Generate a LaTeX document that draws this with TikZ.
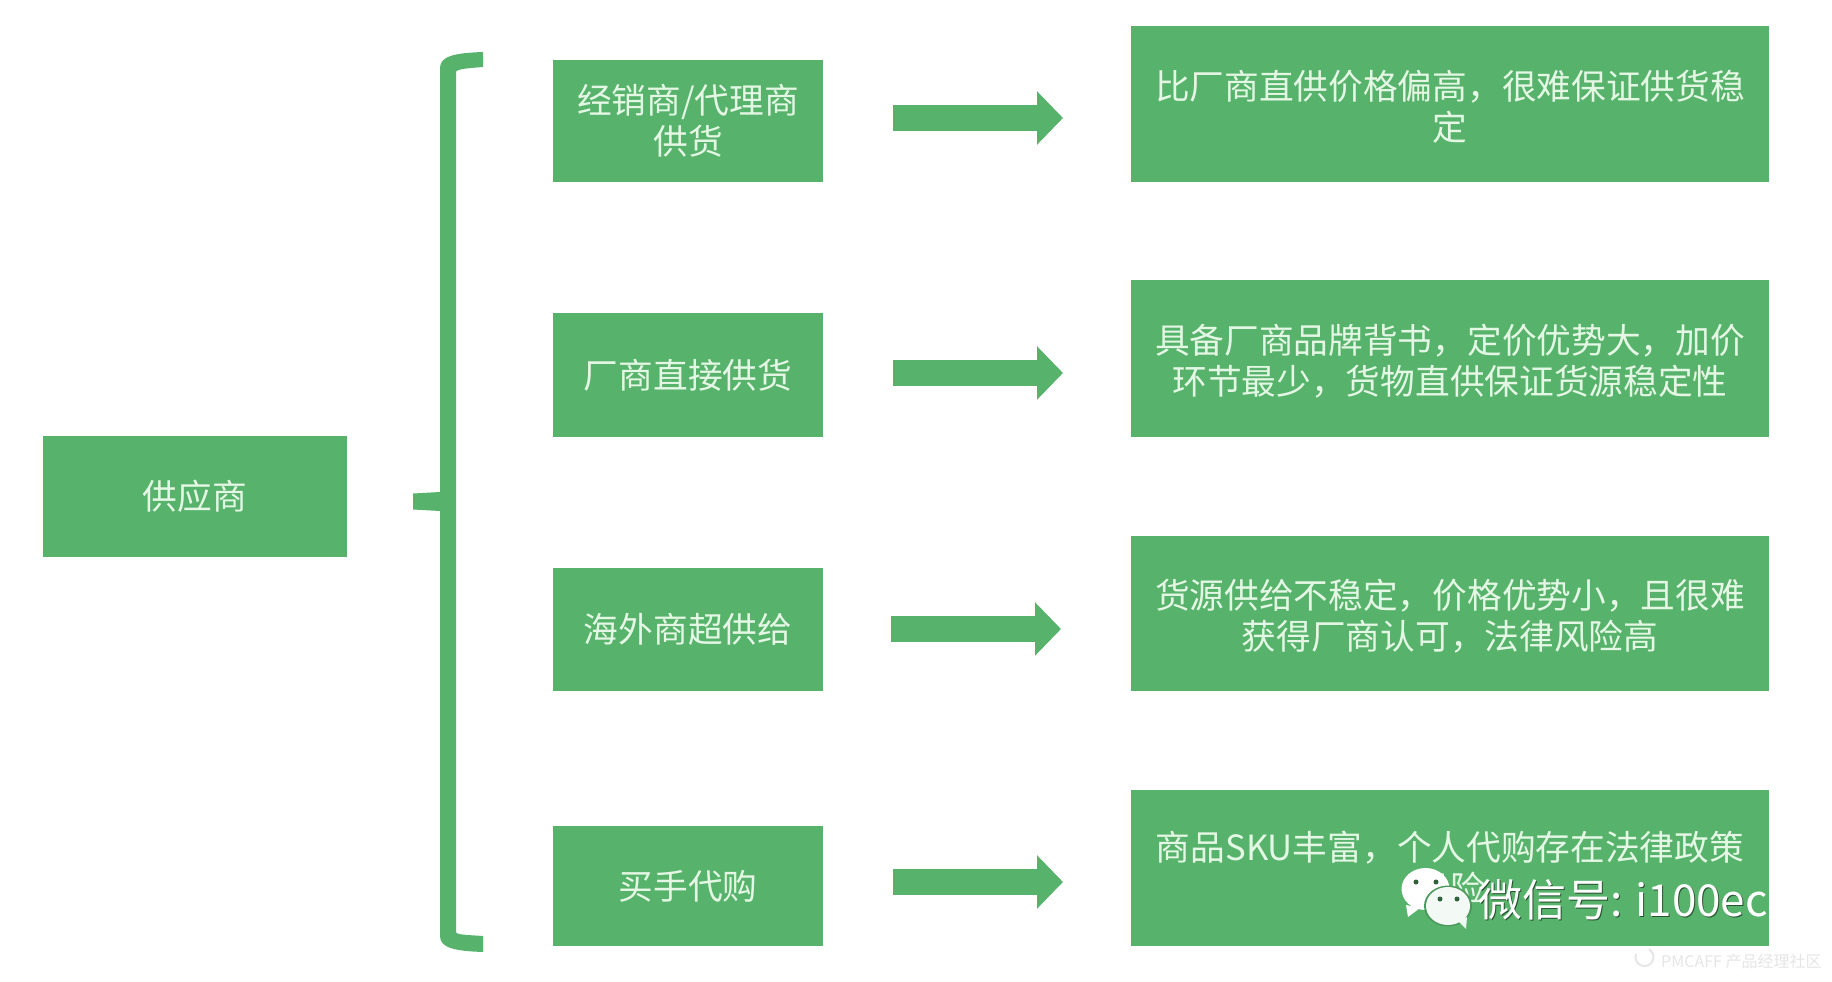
\documentclass[tikz,border=0pt]{standalone}
\usepackage{fontspec}
\setmainfont{Noto Sans CJK SC}
\usetikzlibrary{arrows.meta}
\definecolor{grn}{HTML}{57B36B}
\definecolor{pale}{HTML}{E4F7E4}
\definecolor{wm}{HTML}{E6E6E6}
\newcommand{\lowerline}{\rule{0pt}{35pt}}
\tikzset{
  box/.style={fill=grn,draw=none,inner sep=0pt,text=pale,align=center,font=\fontsize{34.7}{41}\selectfont},
  flow/.style={draw=grn,line width=26pt,-{Triangle[width=52pt,length=26pt]}},
  tag/.style={inner sep=0pt,anchor=west}
}
\begin{document}
\begin{tikzpicture}[x=1pt,y=-1pt]
\useasboundingbox (0,0) rectangle (1832,982);
\fill[white] (0,0) rectangle (1832,982);
% boxes
\node[box,minimum width=304pt,minimum height=121pt] (s) at (195,496.5) {供应商};
\node[box,minimum width=270pt,minimum height=122pt] (m1) at (688,121) {经销商/代理商\\供货};
\node[box,minimum width=270pt,minimum height=124pt] (m2) at (688,375) {厂商直接供货};
\node[box,minimum width=270pt,minimum height=123pt] (m3) at (688,629.5) {海外商超供给};
\node[box,minimum width=270pt,minimum height=120pt] (m4) at (688,886) {买手代购};
\node[box,minimum width=638pt,minimum height=156pt] (r1) at (1450,104) {\lowerline 比厂商直供价格偏高，很难保证供货稳\\定};
\node[box,minimum width=638pt,minimum height=157pt] (r2) at (1450,358.5) {\lowerline 具备厂商品牌背书，定价优势大，加价\\环节最少，货物直供保证货源稳定性};
\node[box,minimum width=638pt,minimum height=155pt] (r3) at (1450,613.5) {\lowerline 货源供给不稳定，价格优势小，且很难\\获得厂商认可，法律风险高};
\node[box,minimum width=638pt,minimum height=156pt] (r4) at (1450,868) {商品SKU丰富，个人代购存在法律政策\\风险};
% arrows
\coordinate (a1s) at (893,118); \coordinate (a1e) at (1063,118);
\coordinate (a2s) at (893,373); \coordinate (a2e) at (1063,373);
\coordinate (a3s) at (891,629); \coordinate (a3e) at (1061,629);
\coordinate (a4s) at (893,882); \coordinate (a4e) at (1063,882);
\draw[flow] (a1s) -- (a1e);
\draw[flow] (a2s) -- (a2e);
\draw[flow] (a3s) -- (a3e);
\draw[flow] (a4s) -- (a4e);
% bracket
\fill[grn] (483,52) .. controls (455,53) and (440,56) .. (440,68)
  -- (440,492) -- (413,493.5) -- (413,509.5) -- (440,511)
  -- (440,936) .. controls (440,948) and (455,951) .. (483,952)
  -- (483,936) .. controls (470,935) and (456,935) .. (456,932)
  -- (456,72) .. controls (456,69) and (470,68) .. (483,67) -- cycle;
% watermark icon
\begin{scope}[yshift=3pt]
\fill[white] (1425.5,892) ellipse [x radius=24,y radius=21];
\fill[white] (1406,908) -- (1408,920) -- (1420,911) -- cycle;
\fill[black!45!grn] (1416,885) circle (2.5) (1436,885) circle (2.5);
\fill[black!15!grn] (1448,909) ellipse [x radius=24,y radius=20.5];
\fill[white!93!grn] (1448,909) ellipse [x radius=22,y radius=19];
\fill[white!93!grn] (1458,924) -- (1466,932) -- (1467,920) -- cycle;
\fill[black!45!grn] (1440,902) circle (2.5) (1457,902) circle (2.5);
\end{scope}
% watermark text
\node[tag,text=black!55!grn,font=\fontsize{44}{48}\selectfont,xshift=1pt,yshift=-1pt] (wts) at (1478,900) {微信号: i100e};
\node[tag,text=white,font=\fontsize{44}{48}\selectfont] (wt) at (1478,900) {微信号: i100ec};
\node[tag,text=wm,font=\fontsize{16}{20}\selectfont] (pm) at (1661,961) {PMCAFF 产品经理社区};
\draw[wm,line width=2pt] (1636,954) arc [start angle=200,end angle=-60,radius=9];
\end{tikzpicture}
\end{document}
